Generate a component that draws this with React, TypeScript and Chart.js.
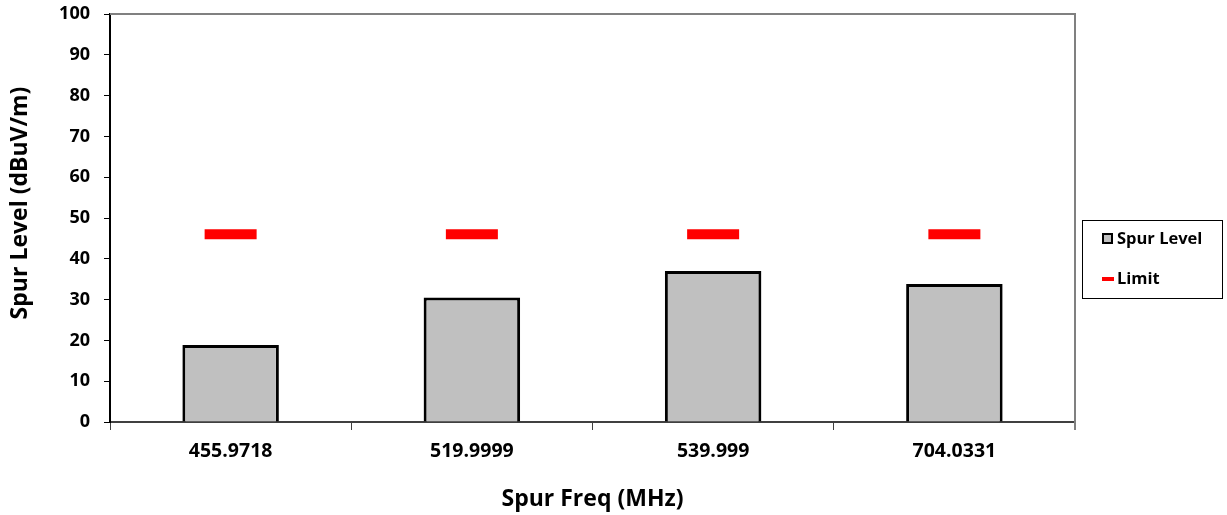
import React, { useEffect, useRef } from "react";
import { Chart, registerables } from "chart.js";

Chart.register(...registerables);

const categories = ["455.9718", "519.9999", "539.999", "704.0331"];
const spurLevel = [18.9, 30.5, 37.0, 33.8];
const limit = [46, 46, 46, 46];
const yTicks = [0, 10, 20, 30, 40, 50, 60, 70, 80, 90, 100];
const yTitle = "Spur Level (dBuV/m)";
const xTitle = "Spur Freq (MHz)";
const legendLabels = ["Spur Level", "Limit"];

const FONT = "'Open Sans', 'Noto Sans', sans-serif";

const framePlugin = {
  id: "frame",
  afterDraw(chart: any) {
    const { ctx, chartArea: a } = chart;
    ctx.save();
    ctx.strokeStyle = "#808080";
    ctx.lineWidth = 2;
    ctx.beginPath();
    ctx.moveTo(a.left, a.top);
    ctx.lineTo(a.right, a.top);
    ctx.lineTo(a.right, a.bottom + 8);
    ctx.stroke();
    // y axis title
    ctx.translate(20, 203);
    ctx.rotate(-Math.PI / 2);
    ctx.fillStyle = "#000";
    ctx.font = `bold 23px ${FONT}`;
    ctx.textAlign = "center";
    ctx.textBaseline = "middle";
    ctx.fillText(yTitle, 0, 0);
    ctx.restore();
  },
};

const legendPlugin = {
  id: "customLegend",
  afterDraw(chart: any) {
    const { ctx } = chart;
    ctx.save();
    ctx.strokeStyle = "#000";
    ctx.lineWidth = 1;
    ctx.strokeRect(1082.5, 220.5, 140, 78);
    ctx.fillStyle = "#c0c0c0";
    ctx.fillRect(1103, 234, 9, 9);
    ctx.strokeStyle = "#000";
    ctx.lineWidth = 2;
    ctx.strokeRect(1103, 234, 9, 9);
    ctx.fillStyle = "#ff0000";
    ctx.fillRect(1102, 277, 12, 4);
    ctx.fillStyle = "#000";
    ctx.font = `bold 16.5px ${FONT}`;
    ctx.textBaseline = "middle";
    ctx.textAlign = "left";
    ctx.fillText(legendLabels[0], 1117, 239);
    ctx.fillText(legendLabels[1], 1117, 279);
    ctx.restore();
  },
};

export default function App() {
  const ref = useRef<HTMLCanvasElement>(null);
  useEffect(() => {
    const chart = new Chart(ref.current!, {
      type: "bar",
      data: {
        labels: categories,
        datasets: [
          {
            type: "line",
            label: "Limit",
            data: limit,
            showLine: false,
            pointStyle: "line",
            pointRadius: 26,
            pointHoverRadius: 26,
            pointBorderWidth: 10,
            pointHoverBorderWidth: 10,
            borderColor: "#ff0000",
            backgroundColor: "#ff0000",
            order: 0,
          } as any,
          {
            type: "bar",
            label: "Spur Level",
            data: spurLevel,
            backgroundColor: "#c0c0c0",
            borderColor: "#000000",
            borderWidth: 3,
            barPercentage: 0.4,
            categoryPercentage: 1,
            order: 1,
          },
        ],
      },
      options: {
        animation: false,
        responsive: true,
        maintainAspectRatio: false,
        layout: { autoPadding: false, padding: { top: 14, right: 152, left: 0, bottom: 0 } },
        plugins: { legend: { display: false }, tooltip: { enabled: false } },
        scales: {
          x: {
            offset: true,
            grid: {
              offset: true,
              drawOnChartArea: false,
              drawTicks: true,
              tickLength: 8,
              color: "#404040",
              lineWidth: 1,
            },
            border: { color: "#404040", width: 2 },
            ticks: {
              color: "#000",
              font: { family: FONT, size: 19.5, weight: "bold" },
              padding: 10,
            },
            title: {
              display: true,
              text: xTitle,
              color: "#000",
              font: { family: FONT, size: 23, weight: "bold" },
              padding: { top: 12, bottom: 2 },
            },
            afterFit(scale: any) {
              scale.height = 93;
              scale.paddingLeft = 0;
              scale.paddingRight = 0;
            },
          },
          y: {
            min: 0,
            max: 100,
            afterBuildTicks(scale: any) {
              scale.ticks = yTicks.map((v) => ({ value: v }));
            },
            grid: {
              drawOnChartArea: false,
              drawTicks: true,
              tickLength: 6,
              color: "#000",
            },
            border: { color: "#000", width: 2 },
            ticks: {
              color: "#000",
              font: { family: FONT, size: 18, weight: "bold" },
              padding: 14,
            },
            title: { display: false },
            afterFit(scale: any) {
              scale.width = 110;
              scale.paddingTop = 0;
              scale.paddingBottom = 0;
            },
          },
        },
      },
      plugins: [framePlugin, legendPlugin],
    });
    return () => chart.destroy();
  }, []);
  return (
    <div style={{ position: "fixed", left: 0, top: 0, width: 1227, height: 515 }}>
      <canvas ref={ref} />
    </div>
  );
}
